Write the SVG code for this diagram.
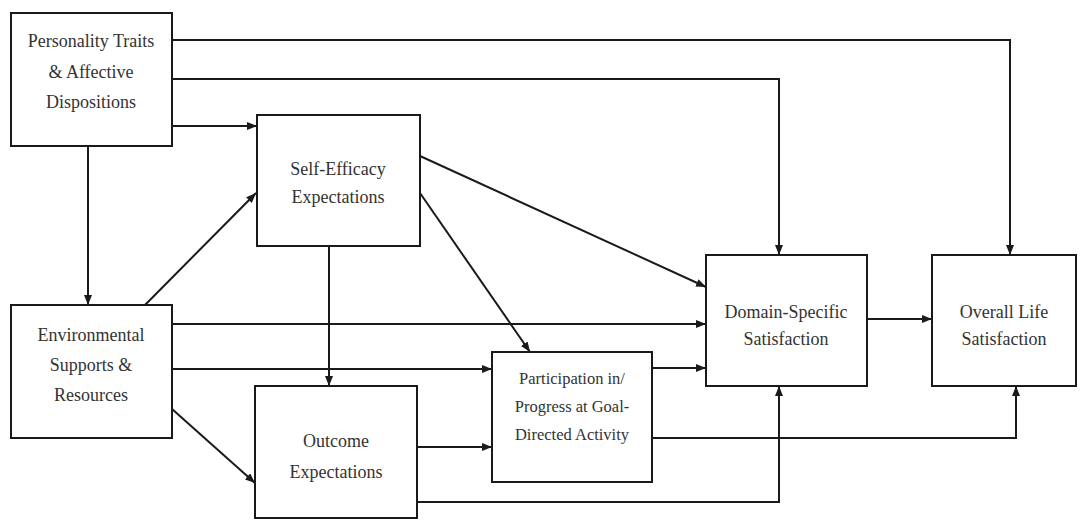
<svg xmlns="http://www.w3.org/2000/svg" width="1087" height="521" viewBox="0 0 1087 521">
  <defs>
    <marker id="arrow" viewBox="0 0 10 8" refX="10" refY="4" markerWidth="10" markerHeight="8" markerUnits="userSpaceOnUse" orient="auto">
      <path d="M0,0 L10,4 L0,8 Z" fill="#1a1a1a"/>
    </marker>
    <style>
      .box { fill: #ffffff; stroke: #1a1a1a; stroke-width: 2; }
      .lbl { font-family: "Liberation Serif", "Times New Roman", serif; font-size: 18px; fill: #333333; text-anchor: middle; }
      .sm { font-size: 16.5px; }
      .edge { fill: none; stroke: #1a1a1a; stroke-width: 2; marker-end: url(#arrow); }
    </style>
  </defs>
  <rect width="1087" height="521" fill="#ffffff"/>

  <!-- connectors -->
  <g id="connectors">
    <!-- personality traits paths -->
    <path class="edge" d="M172,40 H1010 V255"/>
    <path class="edge" d="M172,79 H779 V255"/>
    <path class="edge" d="M172,126 H257"/>
    <path class="edge" d="M88,146 V305"/>
    <!-- environmental supports paths -->
    <path class="edge" d="M145,305 L256,193"/>
    <path class="edge" d="M172,324 H706"/>
    <path class="edge" d="M172,369 H492"/>
    <path class="edge" d="M172,409 L255,483"/>
    <!-- self-efficacy paths -->
    <path class="edge" d="M420,156 L706,287"/>
    <path class="edge" d="M420,193 L530,352"/>
    <path class="edge" d="M329,246 V386"/>
    <!-- outcome expectation paths -->
    <path class="edge" d="M417,447 H492"/>
    <path class="edge" d="M417,502 H779 V386"/>
    <!-- participation paths -->
    <path class="edge" d="M652,368 H706"/>
    <path class="edge" d="M652,438 H1016 V386"/>
    <!-- domain to overall -->
    <path class="edge" d="M867,319 H932"/>
  </g>

  <g id="personality">
    <rect class="box" x="11" y="13" width="161" height="133"/>
    <text class="lbl" x="91" y="47">Personality Traits</text>
    <text class="lbl" x="91" y="78">&amp; Affective</text>
    <text class="lbl" x="91" y="108">Dispositions</text>
  </g>

  <g id="self-efficacy">
    <rect class="box" x="257" y="115" width="163" height="131"/>
    <text class="lbl" x="338" y="175">Self-Efficacy</text>
    <text class="lbl" x="338" y="203">Expectations</text>
  </g>

  <g id="environmental">
    <rect class="box" x="11" y="305" width="161" height="133"/>
    <text class="lbl" x="91" y="341">Environmental</text>
    <text class="lbl" x="91" y="371">Supports &amp;</text>
    <text class="lbl" x="91" y="401">Resources</text>
  </g>

  <g id="outcome">
    <rect class="box" x="255" y="386" width="162" height="132"/>
    <text class="lbl" x="336" y="447">Outcome</text>
    <text class="lbl" x="336" y="478">Expectations</text>
  </g>

  <g id="participation">
    <rect class="box" x="492" y="352" width="160" height="130"/>
    <text class="lbl sm" x="572" y="384">Participation in/</text>
    <text class="lbl sm" x="572" y="412">Progress at Goal-</text>
    <text class="lbl sm" x="572" y="440">Directed Activity</text>
  </g>

  <g id="domain">
    <rect class="box" x="706" y="255" width="161" height="131"/>
    <text class="lbl" x="786" y="318">Domain-Specific</text>
    <text class="lbl" x="786" y="345">Satisfaction</text>
  </g>

  <g id="overall">
    <rect class="box" x="932" y="255" width="144" height="131"/>
    <text class="lbl" x="1004" y="318">Overall Life</text>
    <text class="lbl" x="1004" y="345">Satisfaction</text>
  </g>
</svg>
